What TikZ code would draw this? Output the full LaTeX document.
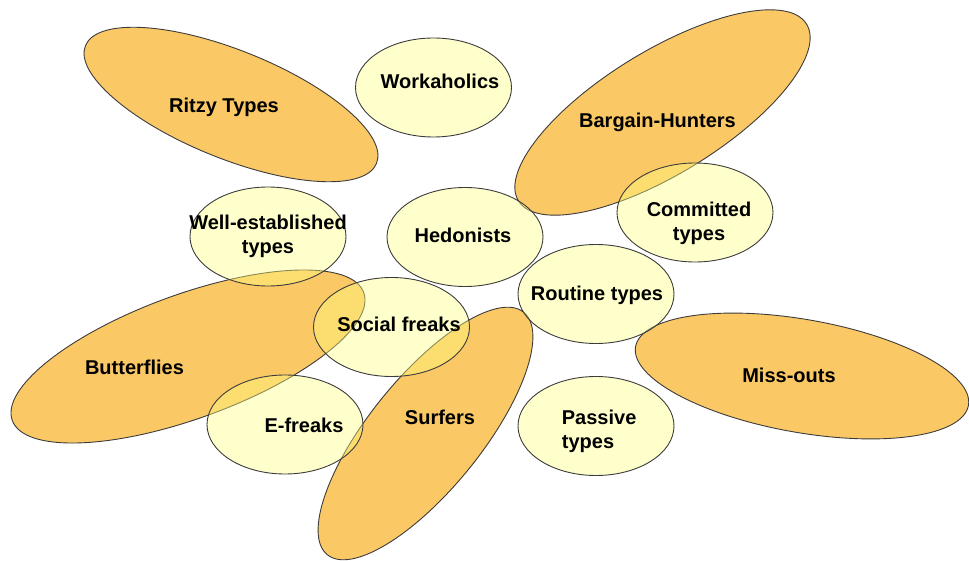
\documentclass[tikz,border=0pt]{standalone}
\usepackage{fontspec}
\setmainfont{Liberation Sans}
\usetikzlibrary{shapes.geometric}
\definecolor{orangefill}{RGB}{251,200,102}
\definecolor{yellowfill}{RGB}{255,255,128}
\definecolor{edgegray}{RGB}{60,60,60}
\begin{document}
\begin{tikzpicture}[x=1pt,y=-1pt,
  blob/.style={ellipse, draw=edgegray, line width=0.9pt, inner sep=0pt, fill=orangefill},
  bubble/.style={ellipse, draw=edgegray, line width=0.9pt, inner sep=0pt, fill=yellowfill, fill opacity=0.4, minimum width=156pt, minimum height=99pt},
  lbl/.style={font=\fontsize{20}{24}\selectfont\bfseries, anchor=base, inner sep=0pt, align=center}]
\useasboundingbox (0,0) rectangle (969,561);
% orange ellipses
\node[blob, minimum width=314pt, minimum height=108pt, rotate=-22] (ritzy) at (231,104.5) {};
\node[blob, minimum width=338pt, minimum height=123pt, rotate=31.5] (bargain) at (662.5,112.5) {};
\node[blob, minimum width=374pt, minimum height=124pt, rotate=20] (butter) at (188,356.5) {};
\node[blob, minimum width=312pt, minimum height=112pt, rotate=51] (surf) at (425.5,433.5) {};
\node[blob, minimum width=338pt, minimum height=113pt, rotate=-10] (miss) at (802,376) {};
% yellow ellipses
\node[bubble] (work) at (433.5,87.5) {};
\node[bubble] (well) at (268,236.5) {};
\node[bubble] (hed) at (465,237) {};
\node[bubble] (com) at (695,212.5) {};
\node[bubble] (rout) at (596,294) {};
\node[bubble] (soc) at (391.5,327) {};
\node[bubble] (ef) at (285,424.5) {};
\node[bubble] (pass) at (596,426) {};
% labels
\node[lbl] (ritzyT) at (224,113) {Ritzy Types};
\node[lbl] (workT) at (440,89) {Workaholics};
\node[lbl] (bargT) at (657.5,128) {Bargain-Hunters};
\node[lbl] (wellT) at (268,254) {Well-established\\types};
\node[lbl] (hedT) at (463,243) {Hedonists};
\node[lbl] (comT) at (699,241) {Committed\\types};
\node[lbl] (routT) at (597,300.5) {Routine types};
\node[lbl] (socT) at (399,331.5) {Social freaks};
\node[lbl] (butT) at (134.5,374) {Butterflies};
\node[lbl] (efT) at (304,432) {E-freaks};
\node[lbl] (surfT) at (440,424) {Surfers};
\node[lbl] (missT) at (789,382.5) {Miss-outs};
\node[lbl, anchor=base west, align=left] (passT) at (561.7,448) {Passive\\types};
\end{tikzpicture}
\end{document}
